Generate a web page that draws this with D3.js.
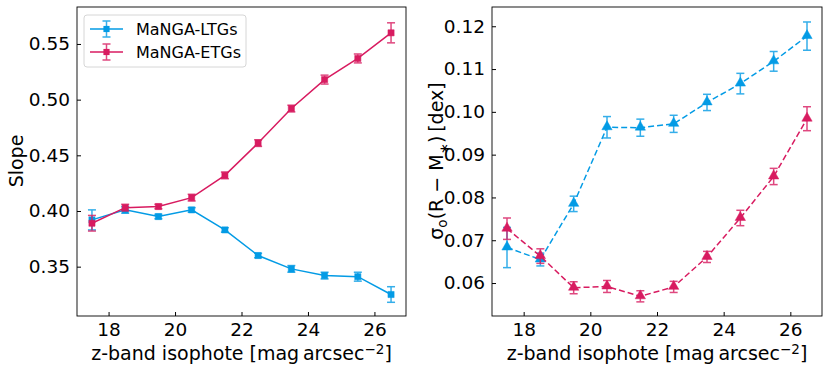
<!DOCTYPE html>
<html>
<head>
<meta charset="utf-8">
<script src="https://d3js.org/d3.v7.min.js"></script>
<style>
  body { margin: 0; background: #fff; }
  text { font-family: "DejaVu Sans", sans-serif; fill: #000; }
</style>
</head>
<body>
<div id="chart"></div>
<script>
const isophotes = [17.5, 18.5, 19.5, 20.5, 21.5, 22.5, 23.5, 24.5, 25.5, 26.5];

// slope (left panel)
const slopeLTG = [0.392, 0.401, 0.395, 0.401, 0.383, 0.360, 0.348, 0.342, 0.341, 0.325];
const slopeLTGErr = [0.009, 0.003, 0.002, 0.002, 0.002, 0.002, 0.003, 0.003, 0.004, 0.007];
const slopeETG = [0.389, 0.403, 0.404, 0.412, 0.432, 0.461, 0.492, 0.518, 0.537, 0.560];
const slopeETGErr = [0.007, 0.003, 0.002, 0.003, 0.003, 0.003, 0.003, 0.004, 0.004, 0.009];

// scatter (right panel)
const sigmaLTG = [0.0683, 0.0655, 0.0785, 0.0964, 0.0963, 0.0972, 0.1022, 0.1066, 0.1118, 0.1177];
const sigmaLTGErr = [0.0047, 0.0015, 0.0018, 0.0025, 0.0020, 0.0020, 0.0019, 0.0024, 0.0023, 0.0033];
const sigmaETG = [0.0727, 0.0663, 0.0589, 0.0592, 0.0569, 0.0591, 0.0661, 0.0752, 0.0849, 0.0984];
const sigmaETGErr = [0.0025, 0.0017, 0.0014, 0.0014, 0.0013, 0.0013, 0.0013, 0.0018, 0.0019, 0.0028];

const xTicks = [18, 20, 22, 24, 26];
const slopeTicks = [0.35, 0.40, 0.45, 0.50, 0.55];
const sigmaTicks = [0.06, 0.07, 0.08, 0.09, 0.10, 0.11, 0.12];

const blue = "#039be5";
const pink = "#d81b60";

const svg = d3.select("#chart").append("svg")
  .attr("width", 830)
  .attr("height", 373);

function panel(opts) {
  const g = svg.append("g");
  const x = d3.scaleLinear().domain([17.05, 26.95]).range([opts.left, opts.right]);
  const y = d3.scaleLinear().domain(opts.yDomain).range([opts.bottom, opts.top]);

  // series
  opts.series.forEach(s => {
    const pts = isophotes.map((v, i) => ({ x: v, y: s.values[i], e: s.errors[i] }));
    const line = d3.line().x(d => x(d.x)).y(d => y(d.y));
    g.append("path")
      .datum(pts)
      .attr("d", line)
      .attr("fill", "none")
      .attr("stroke", s.color)
      .attr("stroke-width", 1.5)
      .attr("stroke-dasharray", s.dash || null);

    const eb = g.append("g").attr("stroke", s.color).attr("stroke-width", 1.5).attr("opacity", 0.8);
    pts.forEach(d => {
      const xx = x(d.x), y0 = y(d.y - d.e), y1 = y(d.y + d.e);
      eb.append("line").attr("x1", xx).attr("x2", xx).attr("y1", y0).attr("y2", y1);
      eb.append("line").attr("x1", xx - 4).attr("x2", xx + 4).attr("y1", y0).attr("y2", y0);
      eb.append("line").attr("x1", xx - 4).attr("x2", xx + 4).attr("y1", y1).attr("y2", y1);
    });

    const tri = s.marker === d3.symbolTriangle;
    const sym = d3.symbol().type(s.marker).size(tri ? 46 : 38);
    g.selectAll(null)
      .data(pts)
      .enter()
      .append("path")
      .attr("d", sym)
      .attr("transform", d => `translate(${x(d.x)},${y(d.y) + (tri ? -0.5 : 0)})`)
      .attr("fill", s.color)
      .attr("stroke", s.color)
      .attr("stroke-opacity", 0.5)
      .attr("stroke-width", 1);
  });

  // frame
  g.append("rect")
    .attr("x", opts.left).attr("y", opts.top)
    .attr("width", opts.right - opts.left).attr("height", opts.bottom - opts.top)
    .attr("fill", "none").attr("stroke", "#000").attr("stroke-width", 0.9);

  // axes with inward ticks
  const xAxis = d3.axisBottom(x).tickValues(xTicks).tickSizeInner(-4).tickSizeOuter(0).tickPadding(7).tickFormat(d3.format("d"));
  const gx = g.append("g").attr("transform", `translate(0,${opts.bottom})`).call(xAxis);
  gx.select(".domain").remove();
  gx.selectAll("text").style("font-size", "18.5px").attr("font-family", "DejaVu Sans");

  const yAxis = d3.axisLeft(y).tickValues(opts.yTicks).tickSizeInner(-4).tickSizeOuter(0).tickPadding(7).tickFormat(opts.yFormat);
  const gy = g.append("g").attr("transform", `translate(${opts.left},0)`).call(yAxis);
  gy.select(".domain").remove();
  gy.selectAll("text").style("font-size", "18.5px").attr("font-family", "DejaVu Sans");

  // x label
  const xl = g.append("text")
    .attr("x", (opts.left + opts.right) / 2)
    .attr("y", 360)
    .attr("text-anchor", "middle")
    .style("font-size", "19px");
  xl.append("tspan").text("z-band isophote [mag\u2009arcsec");
  xl.append("tspan").attr("dy", -6).style("font-size", "13.5px").text("\u22122");
  xl.append("tspan").attr("dy", 6).text("]");

  return { g, x, y };
}

const left = panel({
  left: 77, right: 406, top: 7, bottom: 316,
  yDomain: [0.3057, 0.5832],
  yTicks: slopeTicks,
  yFormat: d3.format(".2f"),
  series: [
    { values: slopeLTG, errors: slopeLTGErr, color: blue, marker: d3.symbolSquare },
    { values: slopeETG, errors: slopeETGErr, color: pink, marker: d3.symbolSquare }
  ]
});

const right = panel({
  left: 492, right: 822, top: 7, bottom: 316,
  yDomain: [0.0523, 0.1245],
  yTicks: sigmaTicks,
  yFormat: d3.format(".2f"),
  series: [
    { values: sigmaLTG, errors: sigmaLTGErr, color: blue, marker: d3.symbolTriangle, dash: "6,3" },
    { values: sigmaETG, errors: sigmaETGErr, color: pink, marker: d3.symbolTriangle, dash: "6,3" }
  ]
});

// y labels
svg.append("text")
  .attr("transform", "translate(23,161) rotate(-90)")
  .attr("text-anchor", "middle")
  .style("font-size", "19px")
  .text("Slope");

const yl = svg.append("text")
  .attr("transform", "translate(443,161) rotate(-90)")
  .attr("text-anchor", "middle")
  .style("font-size", "19px");
yl.append("tspan").text("\u03c3");
yl.append("tspan").attr("dy", 4).style("font-size", "13.5px").text("o");
yl.append("tspan").attr("dy", -4).text("(R \u2212 M");
yl.append("tspan").attr("dy", 6).style("font-size", "13.5px").text("\u2217");
yl.append("tspan").attr("dy", -6).text(")\u2009[dex]");

// legend
const legend = svg.append("g");
legend.append("rect")
  .attr("x", 84).attr("y", 15).attr("width", 162).attr("height", 52)
  .attr("rx", 3)
  .attr("fill", "#fff").attr("fill-opacity", 0.8)
  .attr("stroke", "#d6d6d6");

const legendItems = [
  { label: "MaNGA-LTGs", color: blue },
  { label: "MaNGA-ETGs", color: pink }
];
legendItems.forEach((d, i) => {
  const cy = 29 + i * 23;
  const row = legend.append("g");
  row.append("line").attr("x1", 90).attr("x2", 123).attr("y1", cy).attr("y2", cy)
    .attr("stroke", d.color).attr("stroke-width", 1.5);
  const eb = row.append("g").attr("stroke", d.color).attr("stroke-width", 1.5).attr("opacity", 0.8);
  eb.append("line").attr("x1", 106.5).attr("x2", 106.5).attr("y1", cy - 8).attr("y2", cy + 8);
  eb.append("line").attr("x1", 102.5).attr("x2", 110.5).attr("y1", cy - 8).attr("y2", cy - 8);
  eb.append("line").attr("x1", 102.5).attr("x2", 110.5).attr("y1", cy + 8).attr("y2", cy + 8);
  row.append("path").attr("d", d3.symbol().type(d3.symbolSquare).size(38))
    .attr("transform", `translate(106.5,${cy})`).attr("fill", d.color);
  row.append("text").attr("x", 136).attr("y", cy + 6).style("font-size", "16px").text(d.label);
});
</script>
</body>
</html>
